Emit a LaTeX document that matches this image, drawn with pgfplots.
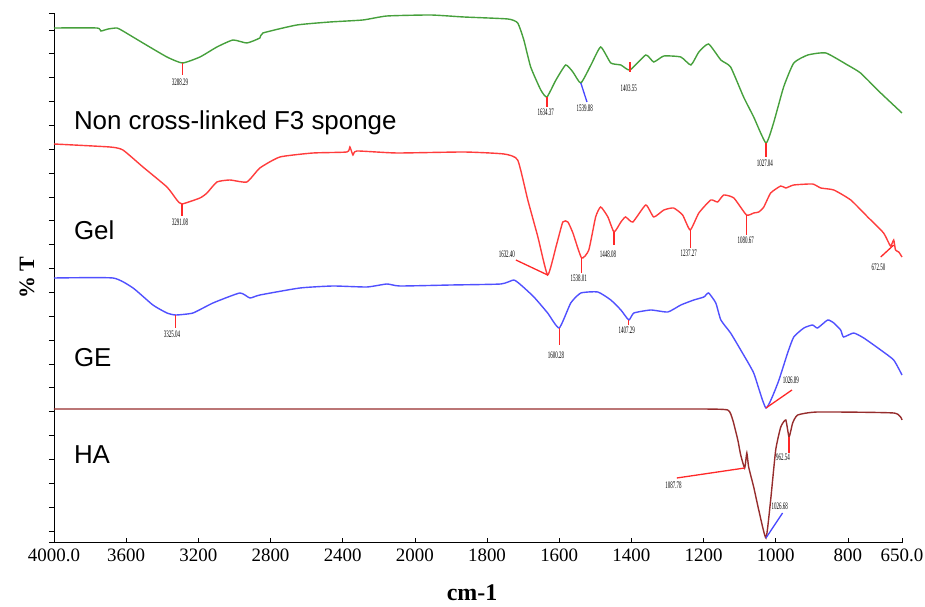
\documentclass[border=0pt]{standalone}
\usepackage{pgfplots}
\pgfplotsset{compat=1.18}
\usepackage{fontspec}
\setmainfont{Liberation Serif}
\newfontfamily\arialf{Liberation Sans}
\newfontfamily\pkf{Liberation Serif}[FakeStretch=0.5]
\definecolor{cgreen}{RGB}{70,160,60}
\definecolor{cred}{RGB}{255,60,60}
\definecolor{cblue}{RGB}{80,80,255}
\definecolor{cbrown}{RGB}{150,45,45}
\definecolor{lred}{RGB}{255,40,40}
\definecolor{lblue}{RGB}{70,70,255}
\tikzset{pk/.style={font=\pkf\fontsize{10}{10}\selectfont, inner sep=0pt, anchor=center},
  nm/.style={font=\arialf\fontsize{26}{26}\selectfont, inner sep=0pt, anchor=base west},
  pl/.style={draw=lred, line width=1.3bp},
  pb/.style={draw=lblue, line width=1.3bp}}
\begin{document}
\begin{tikzpicture}
\begin{axis}[
  scale only axis, width=848bp, height=529bp,
  x coord trafo/.code={\pgfmathparse{#1>=2000 ? (4000-#1)/400 : 5+(2000-#1)/200}},
  x coord inv trafo/.code={\pgfmathparse{#1<=5 ? 4000-400*#1 : 2000-200*(#1-5)}},
  xmin=4000, xmax=650, ymin=-1, ymax=528,
  clip=false,
  axis lines=left, axis line style={-, black, line width=0.8bp},
  tick align=outside, major tick length=5bp,
  tick style={black, line width=0.7bp},
  x tick style={yshift=4bp},
  xtick={4000,3600,3200,2800,2400,2000,1800,1600,1400,1200,1000,800,650},
  xticklabels={4000.0,3600,3200,2800,2400,2000,1800,1600,1400,1200,1000,800,650.0},
  xticklabel style={font=\fontsize{19}{19}\selectfont, inner sep=2bp},
  ytick={-1,10,33.86,57.72,81.58,105.44,129.3,153.16,177.02,200.88,224.74,248.6,272.46,296.32,320.18,344.04,367.9,391.76,415.62,439.48,463.34,487.2,511.06,528},
  yticklabels={},
  xlabel={cm-1}, ylabel={\% T},
  xlabel style={at={(rel axis cs:0.493,0)}, anchor=center, yshift=-51bp, font=\bfseries\fontsize{24}{24}\selectfont},
  ylabel style={at={(rel axis cs:0,0.5)}, anchor=center, yshift=27bp, font=\bfseries\fontsize{22}{22}\selectfont},
  every axis plot/.append style={line width=1.4bp, mark=none, smooth, tension=0.3},
]
% Non cross-linked F3 sponge
\addplot[cgreen] coordinates {(4000,513) (3762,513) (3740,510) (3700,512) (3651,513) (3618,510) (3507,498) (3374,484) (3288,478) (3191,484) (3097,494) (3008,501) (2931,498) (2859,503) (2842,508) (2654,516) (2471,519) (2288,521) (2155,525) (1956,526) (1864,524) (1742,522) (1715,518) (1698,501) (1679,474) (1651,451) (1634,444) (1609,461) (1582,476) (1562,469) (1540,458) (1512,476) (1485,494) (1457,478) (1429,476) (1404,471) (1360,486) (1338,479) (1310,485) (1263,484) (1235,476) (1213,489) (1186,497) (1152,481) (1125,474) (1089,444) (1061,424) (1027,398) (1006,418) (978,454) (950,478) (911,486) (861,488) (801,476) (765,468) (709,448) (650,428)};
% Gel
\addplot[cred] coordinates {(4000,397) (3690,394) (3618,391) (3507,374) (3374,354) (3319,341) (3291,337) (3191,343) (3152,348) (3097,359) (3025,361) (2931,359) (2859,373) (2748,384) (2565,388) (2377,389) (2360,394) (2343,386) (2321,390) (2100,388) (1864,389) (1753,387) (1715,381) (1687,341) (1659,304) (1632,266) (1609,294) (1590,319) (1576,319) (1562,308) (1538,283) (1518,291) (1499,324) (1485,334) (1465,324) (1448,309) (1429,319) (1416,324) (1396,319) (1360,336) (1338,324) (1310,331) (1283,333) (1258,326) (1237,311) (1213,328) (1180,341) (1161,339) (1144,346) (1116,343) (1081,326) (1061,328) (1047,329) (1033,334) (1014,348) (986,355) (972,353) (950,356) (898,357) (875,353) (839,351) (792,341) (745,324) (701,308) (682,295) (673,301) (668,291) (659,289) (650,284)};
% GE
\addplot[cblue] coordinates {(4000,263) (3673,263) (3562,253) (3452,236) (3374,228) (3325,226) (3230,228) (3119,238) (2970,248) (2914,243) (2859,246) (2637,253) (2454,255) (2266,254) (2155,257) (2083,255) (1900,256) (1762,257) (1726,261) (1706,256) (1670,244) (1632,228) (1600,213) (1568,238) (1540,248) (1493,249) (1457,241) (1429,231) (1407,221) (1393,228) (1346,231) (1299,229) (1263,236) (1227,241) (1199,244) (1186,248) (1166,238) (1152,221) (1125,208) (1097,191) (1061,168) (1027,133) (994,158) (967,188) (950,204) (922,213) (898,216) (884,213) (856,221) (839,218) (820,211) (812,204) (784,208) (756,203) (709,191) (673,181) (650,166)};
% HA
\addplot[cbrown] coordinates {(4000,132) (3191,132) (2078,132) (1485,132) (1208,132) (1133,131) (1119,121) (1105,101) (1097,86) (1086,73) (1080,88) (1075,74) (1061,54) (1047,31) (1027,3) (1014,41) (1000,91) (986,114) (972,121) (963,104) (953,118) (939,126) (884,129) (673,128) (650,121)};

% series names
\node[nm] at (3890,411) {Non cross-linked F3 sponge};
\node[nm] at (3890,301) {Gel};
\node[nm] at (3890,174) {GE};
\node[nm] at (3890,77) {HA};

% peak markers: green
\path[pl] (3288,478) -- (3288,466);
\node[pk] at (3302,459) {3288.29};
\path[pl] (1634,444) -- (1634,434);
\node[pk] at (1637,429) {1634.37};
\path[pb] (1540,458) -- (1523,439);
\node[pk] at (1529,433) {1539.88};
\path[pl] (1404,479) -- (1404,469);
\node[pk] at (1407,453) {1403.55};
\path[pl] (1027,398) -- (1027,384);
\node[pk] at (1030,378) {1027.04};
% red
\path[pl] (3291,337) -- (3291,325);
\node[pk] at (3302,319) {3291.08};
\path[pl] (1632,266) -- (1720,281);
\node[pk] at (1745,287) {1632.40};
\path[pl] (1538,283) -- (1538,268);
\node[pk] at (1546,263) {1538.01};
\path[pl] (1448,309) -- (1448,296);
\node[pk] at (1465,287) {1448.08};
\path[pl] (1237,311) -- (1237,293);
\node[pk] at (1241,288) {1237.27};
\path[pl] (1081,326) -- (1081,306);
\node[pk] at (1083,301) {1080.67};
\path[pl] (673,296) -- (709,284);
\node[pk] at (715,274) {672.50};
% blue
\path[pl] (3325,226) -- (3325,213);
\node[pk] at (3346,207) {3325.04};
\path[pl] (1600,213) -- (1600,196);
\node[pk] at (1609,186) {1600.28};
\path[pl] (1407,221) -- (1407,216);
\node[pk] at (1413,211) {1407.29};
\path[pl] (1027,133) -- (955,151);
\node[pk] at (958,161) {1026.89};
% brown
\path[pl] (1086,73) -- (1274,63);
\node[pk] at (1283,56) {1087.78};
\path[pl] (963,104) -- (963,88);
\node[pk] at (980,84) {962.54};
\path[pb] (1027,3) -- (981,28);
\node[pk] at (989,35) {1026.68};
\end{axis}
\pgfresetboundingbox
\useasboundingbox (current axis.south west) ++(-54bp,-65bp) rectangle ([shift={(23bp,13bp)}]current axis.north east);
\end{tikzpicture}
\end{document}
